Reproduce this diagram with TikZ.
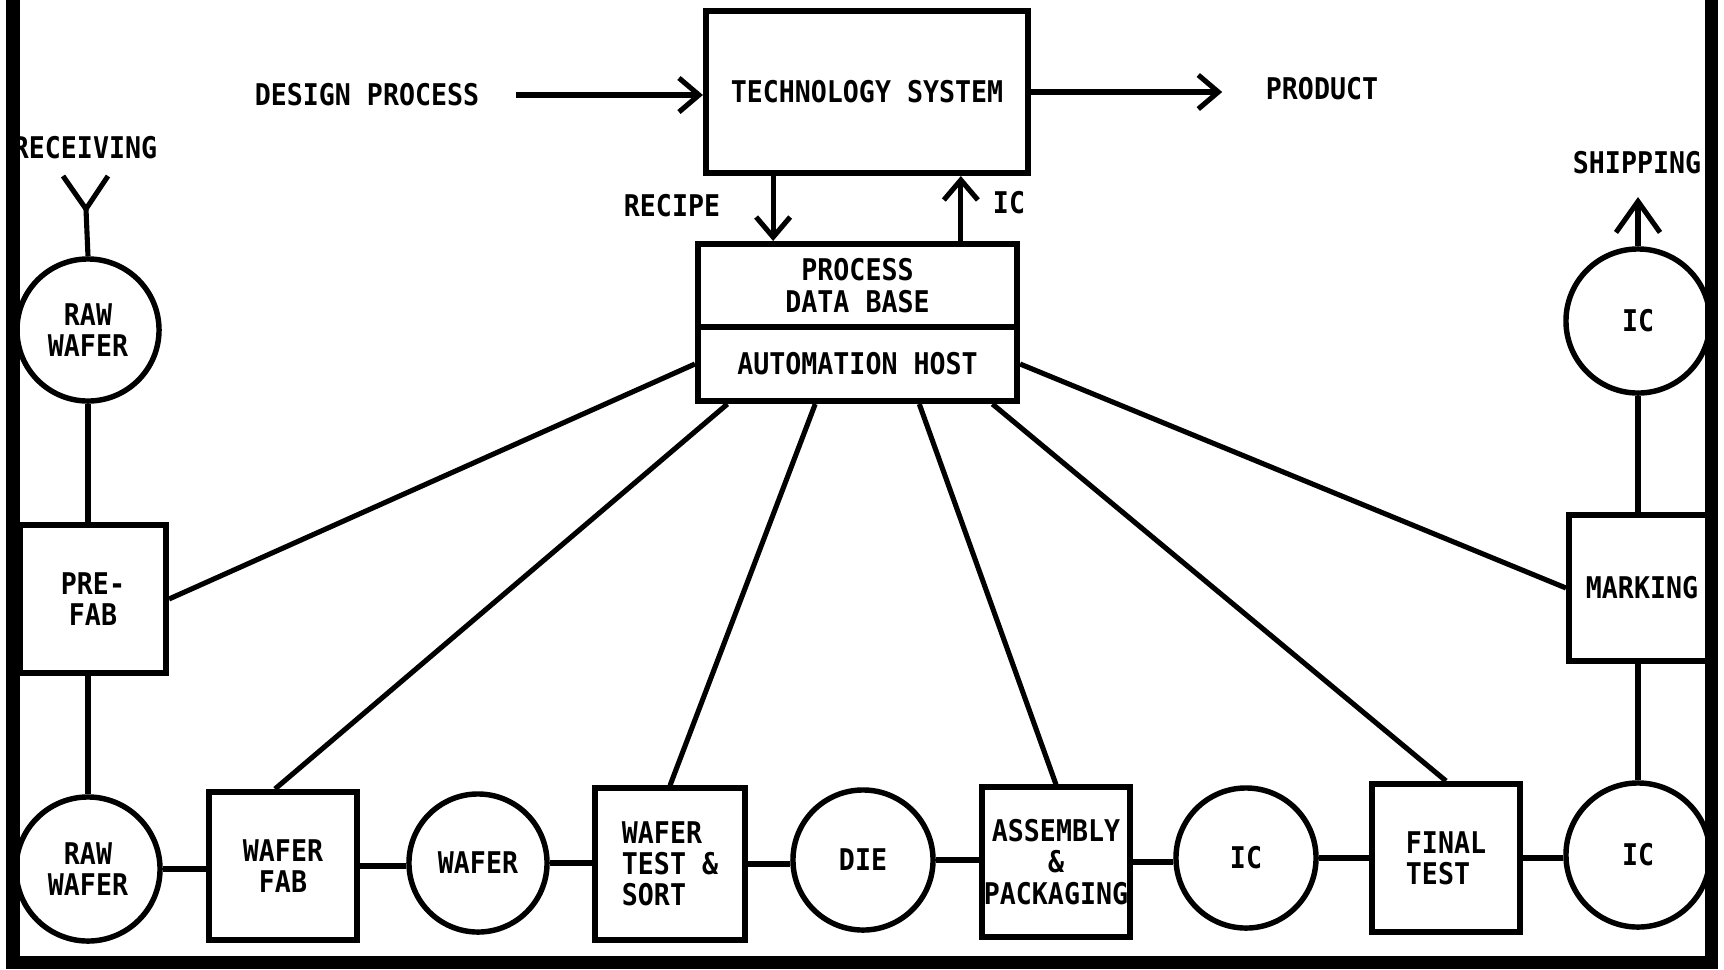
\documentclass[tikz,border=0pt]{standalone}
\usepackage{fontspec}
\usetikzlibrary{arrows.meta,calc}
% Condensed stencil-style lettering
\newfontfamily\letterfamily[FakeStretch=0.89]{DejaVu Sans Mono}
\newcommand\lettering{\letterfamily\bfseries\fontsize{8.5pt}{8.9pt}\selectfont}

\tikzset{
  lbl/.style={inner sep=0pt, align=center},
  procbox/.style={draw, rectangle, line width=1.7pt, inner sep=0pt, align=center},
  item/.style={draw, circle, line width=1.55pt, inner sep=0pt, align=center},
  link/.style={line width=1.45pt},
  arr/.style={link, -{Straight Barb[length=2mm,width=3.4mm,line width=1.45pt]}},
  bigarr/.style={link, -{Straight Barb[length=3.1mm,width=4.4mm,line width=1.45pt]}},
  frame/.style={line width=3.7pt}
}

\begin{document}
\begin{tikzpicture}[x=0.01cm, y=-0.01cm, every node/.style={font=\lettering}]
\useasboundingbox (0,0) rectangle (1724,969);

% outer frame (open at the top)
\draw[frame] (13,-5) -- (13,962) -- (1711,962) -- (1711,-5);

% central system
\node[procbox, minimum width=3.22cm, minimum height=1.62cm] (tech) at (867,92) {TECHNOLOGY SYSTEM};
\node[procbox, minimum width=3.19cm, minimum height=0.83cm] (pdb) at (857.5,285.5) {PROCESS\\DATA BASE};
\node[procbox, minimum width=3.19cm, minimum height=0.74cm] (ah) at (857.5,364) {AUTOMATION HOST};

\node[lbl] (design) at (367,95) {DESIGN PROCESS};
\node[lbl] (product) at (1322,89) {PRODUCT};
\node[lbl] (recipe) at (672,206) {RECIPE};
\node[lbl] (iclbl) at (1009,203) {IC};

\draw[arr, shorten <=0.36cm] (design.east) -- (design.east -| tech.west);
\draw[arr, shorten >=0.43cm] (tech.east) -- (tech.east -| product.west);

\coordinate (rtop) at ($(tech.south west)!0.214!(tech.south east)$);
\coordinate (itop) at ($(tech.south west)!0.786!(tech.south east)$);
\draw[arr] (rtop) -- (rtop |- pdb.north);
\draw[arr] (itop |- pdb.north) -- (itop);

% left column
\node[lbl] (receiving) at (85,148) {RECEIVING};
\node[item, minimum size=1.42cm] (raw1) at (88,330) {RAW\\WAFER};
\node[procbox, minimum width=1.46cm, minimum height=1.48cm] (prefab) at (93,599) {PRE-\\FAB};
\node[item, minimum size=1.44cm] (raw2) at (88,869) {RAW\\WAFER};

\coordinate (yj) at (86,209);
\coordinate (yl) at (63,176);
\coordinate (yr) at (108,176);
\draw[link] (yl) -- (yj) -- (yr);
\draw[link] (yj) -- (raw1.north);
\draw[link] (raw1.south) -- (raw1.south |- prefab.north);
\draw[link] (prefab.south -| raw2.north) -- (raw2.north);

% bottom flow
\node[procbox, minimum width=1.48cm, minimum height=1.48cm] (wfab) at (283,866) {WAFER\\FAB};
\node[item, minimum size=1.38cm] (wafer) at (478,863) {WAFER};
\node[procbox, minimum width=1.49cm, minimum height=1.51cm, align=left] (wts) at (670,864) {WAFER\\TEST \&\\SORT};
\node[item, minimum size=1.40cm] (die) at (863,860) {DIE};
\node[procbox, minimum width=1.48cm, minimum height=1.49cm] (asm) at (1056,862) {ASSEMBLY\\\&\\PACKAGING};
\node[item, minimum size=1.40cm] (ic1) at (1246,858) {IC};
\node[procbox, minimum width=1.48cm, minimum height=1.48cm, align=left] (ftest) at (1446,858) {FINAL\\TEST};
\node[item, minimum size=1.44cm] (ic2) at (1638,855) {IC};

\draw[link] (raw2.east) -- (raw2.east -| wfab.west);
\draw[link] (wfab.east) -- (wfab.east -| wafer.west);
\draw[link] (wafer.east) -- (wafer.east -| wts.west);
\draw[link] (wts.east) -- (wts.east -| die.west);
\draw[link] (die.east) -- (die.east -| asm.west);
\draw[link] (asm.east) -- (asm.east -| ic1.west);
\draw[link] (ic1.east) -- (ic1.east -| ftest.west);
\draw[link] (ftest.east) -- (ftest.east -| ic2.west);

% right column
\node[procbox, minimum width=1.46cm, minimum height=1.45cm] (marking) at (1642,588) {MARKING};
\node[item, minimum size=1.44cm] (ic3) at (1638,321) {IC};
\node[lbl] (shipping) at (1637,163) {SHIPPING};

\draw[link] (ic2.north) -- (ic2.north |- marking.south);
\draw[link] (ic3.south |- marking.north) -- (ic3.south);
\draw[bigarr, shorten >=0.22cm] (ic3.north) -- (shipping.south -| ic3.north);

% control links from the automation host
\draw[link] (prefab.east) -- (ah.west);
\draw[link] ($(wfab.north)+(-8,0)$) -- ($(ah.south west)!0.10!(ah.south east)$);
\draw[link] (wts.north) -- ($(ah.south west)!0.37!(ah.south east)$);
\draw[link] (asm.north) -- ($(ah.south west)!0.69!(ah.south east)$);
\draw[link] (ftest.north) -- ($(ah.south west)!0.915!(ah.south east)$);
\draw[link] (marking.west) -- (ah.east);
\end{tikzpicture}
\end{document}
